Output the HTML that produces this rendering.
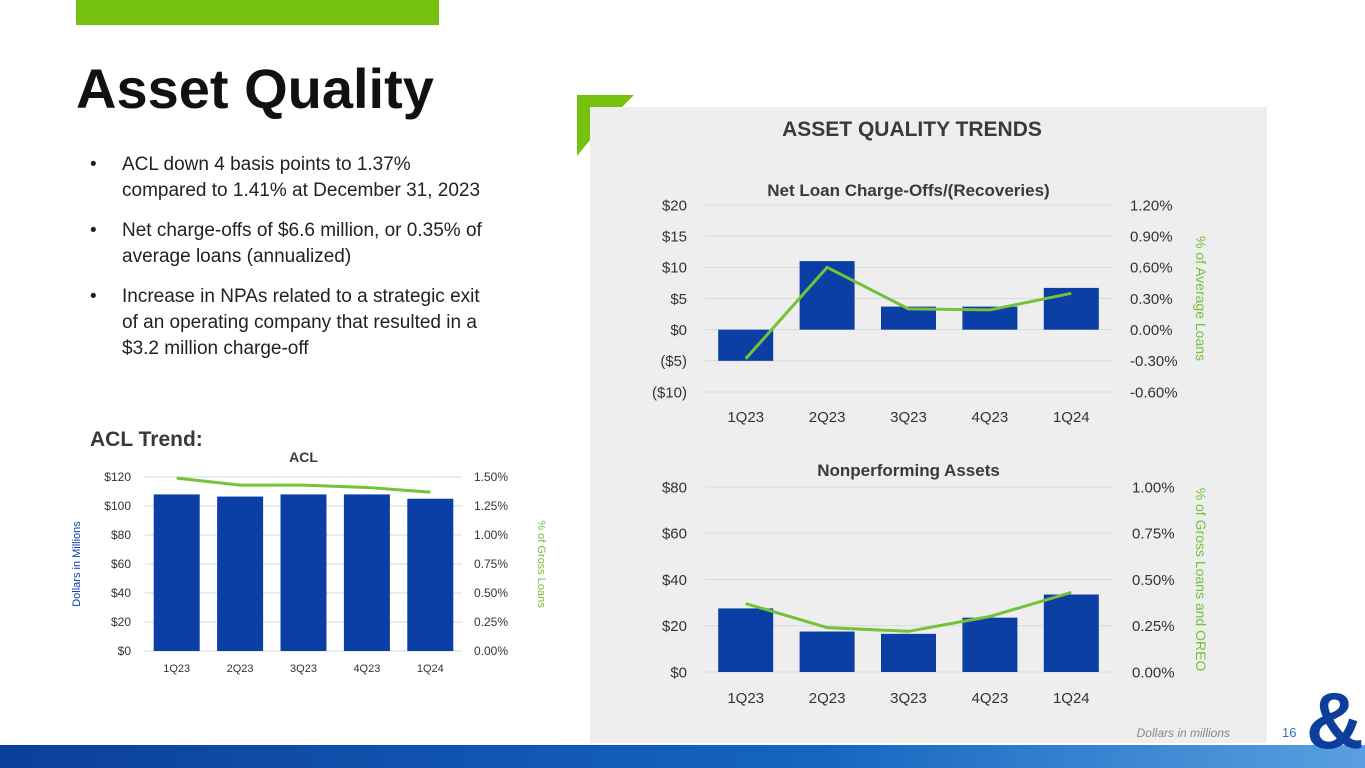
<!DOCTYPE html>
<html><head><meta charset="utf-8"><style>
html,body{margin:0;width:1365px;height:768px;overflow:hidden;background:#fff;font-family:"Liberation Sans",sans-serif}
svg{position:absolute;left:0;top:0}
</style></head><body>
<svg width="1365" height="768" overflow="hidden" font-family="Liberation Sans, sans-serif">
<rect x="76" y="0" width="363" height="25" fill="#76c10f"/>
<text x="76" y="108" font-size="56" font-weight="bold" fill="#111">Asset Quality</text>
<g font-size="19" fill="#222">
<text x="90" y="170">•</text><text x="122" y="170">ACL down 4 basis points to 1.37%</text>
<text x="122" y="196">compared to 1.41% at December 31, 2023</text>
<text x="90" y="236">•</text><text x="122" y="236">Net charge-offs of $6.6 million, or 0.35% of</text>
<text x="122" y="262">average loans (annualized)</text>
<text x="90" y="302">•</text><text x="122" y="302">Increase in NPAs related to a strategic exit</text>
<text x="122" y="328">of an operating company that resulted in a</text>
<text x="122" y="354">$3.2 million charge-off</text>
</g>
<text x="90" y="446" font-size="21" font-weight="bold" fill="#3a3a3a">ACL Trend:</text>
<polygon points="577,95 634,95 622,107 590,107 590,140 577,156" fill="#76c10f"/>
<rect x="590" y="107" width="677" height="636" fill="#eeeeee"/>
<text x="912" y="136" font-size="21" font-weight="bold" fill="#3a3a3a" text-anchor="middle">ASSET QUALITY TRENDS</text>
<text x="1230" y="737" font-size="12" font-style="italic" fill="#888" text-anchor="end">Dollars in millions</text>
<text x="1282" y="737" font-size="13" fill="#3a6fb8">16</text>
<defs><linearGradient id="bg" x1="0" x2="1"><stop offset="0" stop-color="#0b3f9b"/><stop offset="0.6" stop-color="#1565c0"/><stop offset="1" stop-color="#5aa0e0"/></linearGradient></defs>
<rect x="0" y="745" width="1365" height="23" fill="url(#bg)"/>
<text x="1306" y="748" font-size="80" font-weight="bold" fill="#0b3f9b">&amp;</text>
<g id="charts"></g>
</svg>
<script>
const cats=["1Q23","2Q23","3Q23","4Q23","1Q24"];
const ncoBars=[-5,11,3.7,3.7,6.7];
const ncoPct=[-0.28,0.60,0.20,0.19,0.35];
const ncoTicksL=["($10)","($5)","$0","$5","$10","$15","$20"];
const ncoTicksR=["-0.60%","-0.30%","0.00%","0.30%","0.60%","0.90%","1.20%"];
const npaBars=[27.5,17.5,16.5,23.5,33.5];
const npaPct=[0.37,0.24,0.22,0.30,0.43];
const npaTicksL=["$0","$20","$40","$60","$80"];
const npaTicksR=["0.00%","0.25%","0.50%","0.75%","1.00%"];
const aclBars=[108,106.5,108,108,105];
const aclPct=[1.49,1.43,1.43,1.41,1.37];
const aclTicksL=["$0","$20","$40","$60","$80","$100","$120"];
const aclTicksR=["0.00%","0.25%","0.50%","0.75%","1.00%","1.25%","1.50%"];
const NS="http://www.w3.org/2000/svg";
const root=document.getElementById('charts');
function mk(t,a,p){const e=document.createElementNS(NS,t);for(const k in a)e.setAttribute(k,a[k]);(p||root).appendChild(e);return e;}
function chart(o){
  const g=mk('g',{});
  
  
  const y=v=>o.y0+(v-o.lmin)/(o.lmax-o.lmin)*(o.y1-o.y0);
  const yr=v=>o.y0+(v-o.rmin)/(o.rmax-o.rmin)*(o.y1-o.y0);
  const n=o.tl.length;
  for(let i=0;i<n;i++){
    const v=o.lmin+(o.lmax-o.lmin)*i/(n-1), yy=y(v);
    const gl=mk('line',{x1:o.x0,x2:o.x1,y1:yy,y2:yy,stroke:'#d9d9d9','stroke-width':1},g);
    
    
    const t=mk('text',{x:o.x0-o.lpad,y:yy+o.fs*0.35,'font-size':o.fs,fill:'#333','text-anchor':'end'},g);t.textContent=o.tl[i];
    
    
    const r=mk('text',{x:o.x1+o.rpad,y:yy+o.fs*0.35,'font-size':o.fs,fill:'#333'},g);r.textContent=o.tr[i];
    
    
  }
  const step=(o.x1-o.x0)/cats.length;
  const pts=[];
  cats.forEach((c,i)=>{
    const cx=o.x0+step*(i+0.5);
    const a=y(0),b=y(o.bars[i]);
    const bar=mk('rect',{x:cx-o.bw/2,y:Math.min(a,b),width:o.bw,height:Math.abs(a-b),fill:'#0b3fa6'},g);
    
    
    const t=mk('text',{x:cx,y:o.xly,'font-size':o.xfs,fill:'#333','text-anchor':'middle'},g);t.textContent=c;
    
    
    pts.push(cx+','+yr(o.pct[i]));
  });
  const pl=mk('polyline',{points:pts.join(' '),fill:'none',stroke:'#76c13a','stroke-width':3},g);
  
  
  const tt=mk('text',{x:(o.x0+o.x1)/2,y:o.ty,'font-size':o.tfs,'font-weight':'bold',fill:'#3a3a3a','text-anchor':'middle'},g);tt.textContent=o.title;
  
  
  if(o.ylab){const t=mk('text',{x:0,y:0,'font-size':o.yfs,fill:'#0b3fa6','text-anchor':'middle',transform:`translate(${o.ylx},${(o.y0+o.y1)/2}) rotate(-90)`},g);t.textContent=o.ylab;
    
    }
  const t2=mk('text',{x:0,y:0,'font-size':o.yfs,fill:'#76c13a','text-anchor':'middle',transform:`translate(${o.rlx},${(o.y0+o.y1)/2}) rotate(90)`},g);t2.textContent=o.rlab;
  
  
}
chart({name:'net-charge-offs-chart',x0:705,x1:1112,y0:392,y1:205,lmin:-10,lmax:20,rmin:-0.6,rmax:1.2,bars:ncoBars,pct:ncoPct,tl:ncoTicksL,tr:ncoTicksR,fs:15,lpad:18,rpad:18,bw:55,xly:422,xfs:15,ty:196,tfs:17,title:'Net Loan Charge-Offs/(Recoveries)',rlab:'% of Average Loans',rlx:1196,yfs:14});
chart({name:'nonperforming-assets-chart',x0:705,x1:1112,y0:672,y1:487,lmin:0,lmax:80,rmin:0,rmax:1.0,bars:npaBars,pct:npaPct,tl:npaTicksL,tr:npaTicksR,fs:15,lpad:18,rpad:20,bw:55,xly:703,xfs:15,ty:476,tfs:17,title:'Nonperforming Assets',rlab:'% of Gross Loans and OREO',rlx:1196,yfs:14});
chart({name:'acl-chart',x0:145,x1:462,y0:651,y1:477,lmin:0,lmax:120,rmin:0,rmax:1.5,bars:aclBars,pct:aclPct,tl:aclTicksL,tr:aclTicksR,fs:12,lpad:14,rpad:12,bw:46,xly:672,xfs:11,ty:462,tfs:14,title:'ACL',ylab:'Dollars in Millions',ylx:80,rlab:'% of Gross Loans',rlx:538,yfs:11});
</script>
</body></html>
